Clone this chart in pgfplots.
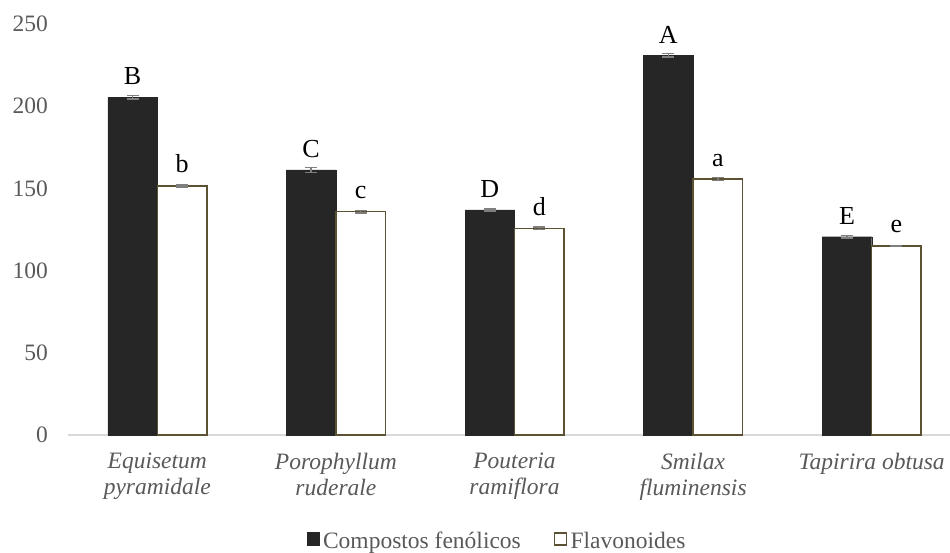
\documentclass[border=0pt]{standalone}
\usepackage{fontspec}
\setmainfont{Liberation Serif}
\usepackage{pgfplots}
\usepackage{pgfplotstable}
\pgfplotsset{compat=1.18}
\definecolor{dark}{HTML}{262626}
\definecolor{olive}{HTML}{5A5233}
\definecolor{lab}{HTML}{595959}
\definecolor{axgray}{HTML}{D9D9D9}
\definecolor{errc}{HTML}{7F7F7F}
\newcommand\cf{\fontsize{23.5}{26}\selectfont}
\newcommand\lf{\fontsize{26}{28}\selectfont}

\pgfplotstableread{
x y e l
0 205.5 1.0 B
1 161.2 1.5 C
2 136.9 0.7 D
3 231.0 1.0 A
4 120.6 0.8 E
}\fen
\pgfplotstableread{
x y e l
0 151.5 0.5 b
1 135.8 0.8 c
2 125.7 0.8 d
3 155.7 0.8 a
4 115.0 0.3 e
}\fla

\begin{document}
\begin{tikzpicture}
\begin{axis}[
  at={(0,0)}, anchor=south west,
  scale only axis, width=893pt, height=411pt,
  xmin=-0.5, xmax=4.5, ymin=0, ymax=250,
  ybar=0pt, bar width=49.5pt,
  axis lines*=left,
  x axis line style={draw=axgray, line width=1.2pt, -},
  y axis line style={draw=none},
  major tick length=0pt,
  xtick={0,...,4},
  xticklabels={{Equisetum\\pyramidale},{Porophyllum\\ruderale},{Pouteria\\ramiflora},{Smilax\\fluminensis},{Tapirira obtusa}},
  xticklabel style={align=center, font=\cf\itshape, text=lab, anchor=north, inner sep=0pt, yshift=-18pt},
  ytick={0,50,...,250},
  yticklabel style={font=\cf, text=lab, anchor=east, inner sep=0pt, xshift=-20pt},
  /pgf/number format/assume math mode=true,
  point meta=explicit symbolic,
  nodes near coords,
  nodes near coords style={font=\lf, text=black, anchor=south, inner sep=0pt, yshift=12pt},
  error bars/y dir=both, error bars/y explicit,
  error bars/error bar style={draw=errc, line width=1.5pt},
  error bars/error mark options={draw=errc, line width=1.5pt, mark size=6pt, rotate=90},
  legend style={draw=none, fill=none, at={(0.4806,-0.259)}, anchor=center, legend columns=2, font=\cf, text=lab, /tikz/every even column/.append style={column sep=31pt}},
  legend cell align=left,
  clip=false,
]
\addplot[fill=dark, draw=dark, legend image code/.code={\draw[fill=dark,draw=dark,line width=1pt] (0.5pt,-4pt) rectangle (13pt,8.5pt); \path (14pt,0pt);}] table[x=x, y=y, y error=e, meta=l] {\fen};
\addlegendentry{Compostos fenólicos}
\addplot[fill=white, draw=olive, line width=1.5pt, legend image code/.code={\draw[fill=white,draw=olive,line width=1.5pt] (0.75pt,-3.75pt) rectangle (12.75pt,8.25pt); \path (14pt,0pt);}] table[x=x, y=y, y error=e, meta=l] {\fla};
\addlegendentry{Flavonoides}
\end{axis}
\pgfresetboundingbox
\path[use as bounding box] (-68pt,-118pt) rectangle (882pt,435pt);
\end{tikzpicture}
\end{document}
